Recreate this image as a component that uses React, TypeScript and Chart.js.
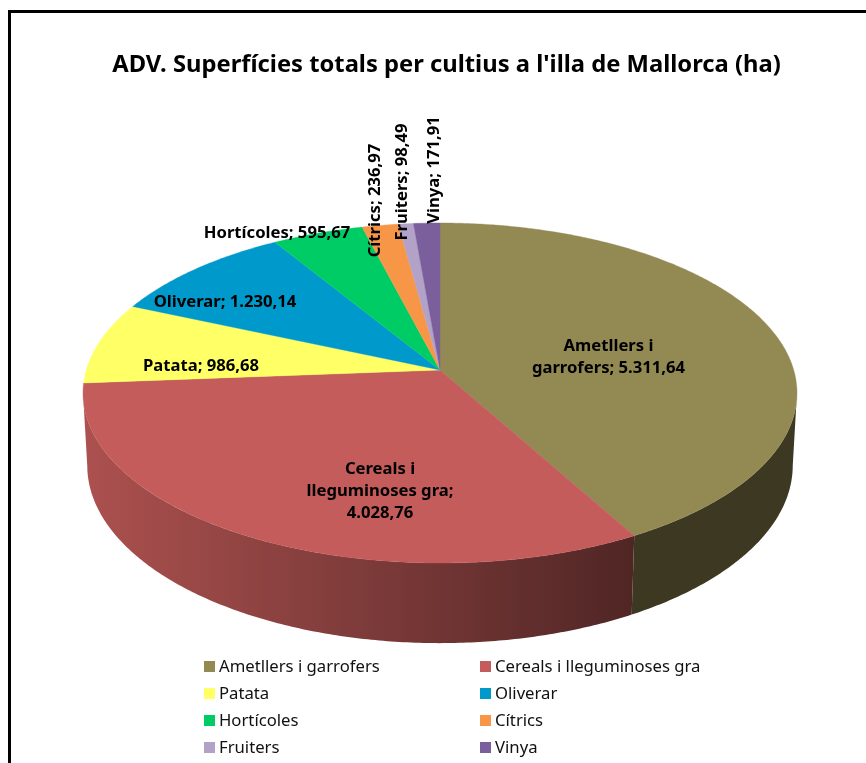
import React, { useEffect, useRef } from "react";
import { Chart, registerables } from "chart.js";

Chart.register(...registerables);

const titleText = "ADV. Superfícies totals per cultius a l'illa de Mallorca (ha)";
const categories = ["Ametllers i garrofers", "Cereals i lleguminoses gra", "Patata", "Oliverar", "Hortícoles", "Cítrics", "Fruiters", "Vinya"];
const values = [5311.64, 4028.76, 986.68, 1230.14, 595.67, 236.97, 98.49, 171.91];
const topColors = ["#928953", "#C35C5A", "#FFFF66", "#0099CC", "#00CC66", "#F79646", "#B2A2C7", "#7B5F9C"];

// label layout: name lines, anchor centre and rotation
const labelLayout = [
  { lines: ["Ametllers i", "garrofers; {v}"], x: 608.5, y: 357.5, rot: false },
  { lines: ["Cereals i", "lleguminoses gra;", "{v}"], x: 380, y: 491.5, rot: false },
  { lines: ["Patata; {v}"], x: 201, y: 366.5, rot: false },
  { lines: ["Oliverar; {v}"], x: 225, y: 302.5, rot: false },
  { lines: ["Hortícoles; {v}"], x: 277, y: 233.5, rot: false },
  { lines: ["Cítrics; {v}"], x: 375, y: 200.5, rot: true },
  { lines: ["Fruiters; {v}"], x: 402, y: 182, rot: true },
  { lines: ["Vinya; {v}"], x: 434, y: 170, rot: true },
];

// perspective projection of the disc
const CX = 440, CY = 370, A = 353.7, B = 166.9, K = 0.1353, M = 0.0118, H = 72.5;
const SIL = Math.asin(K);
function project(angle: number, z: number): [number, number] {
  const u = Math.cos(angle), v = Math.sin(angle);
  const w = 1 - K * v + M * z;
  return [CX + (A * u) / w, CY + (B * v + H * z) / w];
}

function fmt(n: number) {
  const [i, d] = n.toFixed(2).split(".");
  return i.replace(/\B(?=(\d{3})+$)/g, ".") + "," + d;
}

function shade(hex: string, f: number) {
  const n = parseInt(hex.slice(1), 16);
  const r = Math.round(((n >> 16) & 255) * f);
  const g = Math.round(((n >> 8) & 255) * f);
  const b = Math.round((n & 255) * f);
  return `rgb(${r},${g},${b})`;
}

function arcPoints(a0: number, a1: number, z: number) {
  const pts: [number, number][] = [];
  const steps = Math.max(2, Math.ceil(Math.abs(a1 - a0) / 0.01));
  for (let i = 0; i <= steps; i++) pts.push(project(a0 + ((a1 - a0) * i) / steps, z));
  return pts;
}

const pie3d = {
  id: "pie3d",
  beforeDatasetsDraw(chart: any) {
    const ctx = chart.ctx as CanvasRenderingContext2D;
    const arcs = chart.getDatasetMeta(0).data;
    ctx.save();
    // visible wall, between the two silhouette angles
    arcs.forEach((el: any, i: number) => {
      const { startAngle, endAngle } = el.getProps(["startAngle", "endAngle"], true);
      const a0 = Math.max(startAngle, SIL), a1 = Math.min(endAngle, Math.PI - SIL);
      if (a1 <= a0) return;
      const top = arcPoints(a0, a1, 0);
      const bot = arcPoints(a1, a0, 1);
      const col = topColors[i];
      const g = ctx.createLinearGradient(83, 0, 797, 0);
      g.addColorStop(0, shade(col, 0.88));
      g.addColorStop(0.77, shade(col, 0.41));
      g.addColorStop(1, shade(col, 0.41));
      ctx.beginPath();
      [...top, ...bot].forEach((p, j) => (j ? ctx.lineTo(p[0], p[1]) : ctx.moveTo(p[0], p[1])));
      ctx.closePath();
      ctx.fillStyle = g;
      ctx.fill();
    });
    // top face
    arcs.forEach((el: any, i: number) => {
      const { startAngle, endAngle } = el.getProps(["startAngle", "endAngle"], true);
      ctx.beginPath();
      ctx.moveTo(CX, CY);
      arcPoints(startAngle, endAngle, 0).forEach((p) => ctx.lineTo(p[0], p[1]));
      ctx.closePath();
      ctx.fillStyle = topColors[i];
      ctx.strokeStyle = topColors[i];
      ctx.lineWidth = 0.4;
      ctx.fill();
      ctx.stroke();
    });
    ctx.restore();
    return false;
  },
  afterDraw(chart: any) {
    const ctx = chart.ctx as CanvasRenderingContext2D;
    ctx.save();
    // frame
    ctx.strokeStyle = "#000";
    ctx.lineWidth = 3;
    ctx.strokeRect(9.5, 11.5, 900, 800);
    // data labels
    ctx.fillStyle = "#000";
    ctx.font = 'bold 16.65px "Noto Sans"';
    ctx.textAlign = "center";
    ctx.textBaseline = "middle";
    labelLayout.forEach((l, i) => {
      const lines = l.lines.map((s) => s.replace("{v}", fmt(values[i])));
      ctx.save();
      ctx.translate(l.x, l.y);
      if (l.rot) ctx.rotate(-Math.PI / 2);
      lines.forEach((s, j) => ctx.fillText(s, 0, (j - (lines.length - 1) / 2) * 22));
      ctx.restore();
    });
    // legend
    ctx.font = '16.7px "Noto Sans"';
    ctx.textAlign = "left";
    categories.forEach((c, i) => {
      const col = i % 2, row = Math.floor(i / 2);
      const x = col ? 480 : 204;
      const y = 666.8 + row * 27.2;
      ctx.fillStyle = topColors[i];
      ctx.fillRect(x, Math.round(y) - 6, 11, 11);
      ctx.fillStyle = "#111";
      ctx.fillText(c, x + 15, y);
    });
    ctx.restore();
  },
};

export default function App() {
  const ref = useRef<HTMLCanvasElement>(null);
  useEffect(() => {
    const chart = new Chart(ref.current!, {
      type: "pie",
      data: {
        labels: categories,
        datasets: [{ data: values, backgroundColor: topColors, borderWidth: 0 }],
      },
      options: {
        animation: false,
        responsive: false,
        devicePixelRatio: 1,
        layout: { padding: { left: 27 } },
        plugins: {
          legend: { display: false },
          tooltip: { enabled: false },
          title: {
            display: true,
            fullSize: false,
            text: titleText,
            color: "#000",
            font: { family: '"Noto Sans"', size: 23.75, weight: "bold" },
            padding: { top: 50.5, bottom: 10 },
          },
        },
      },
      plugins: [pie3d],
    } as any);
    return () => chart.destroy();
  }, []);
  return (
    <div style={{ position: "absolute", left: 0, top: 0, width: 866, height: 763, overflow: "hidden", background: "#fff" }}>
      <canvas ref={ref} width={866} height={763} style={{ display: "block" }} />
    </div>
  );
}
